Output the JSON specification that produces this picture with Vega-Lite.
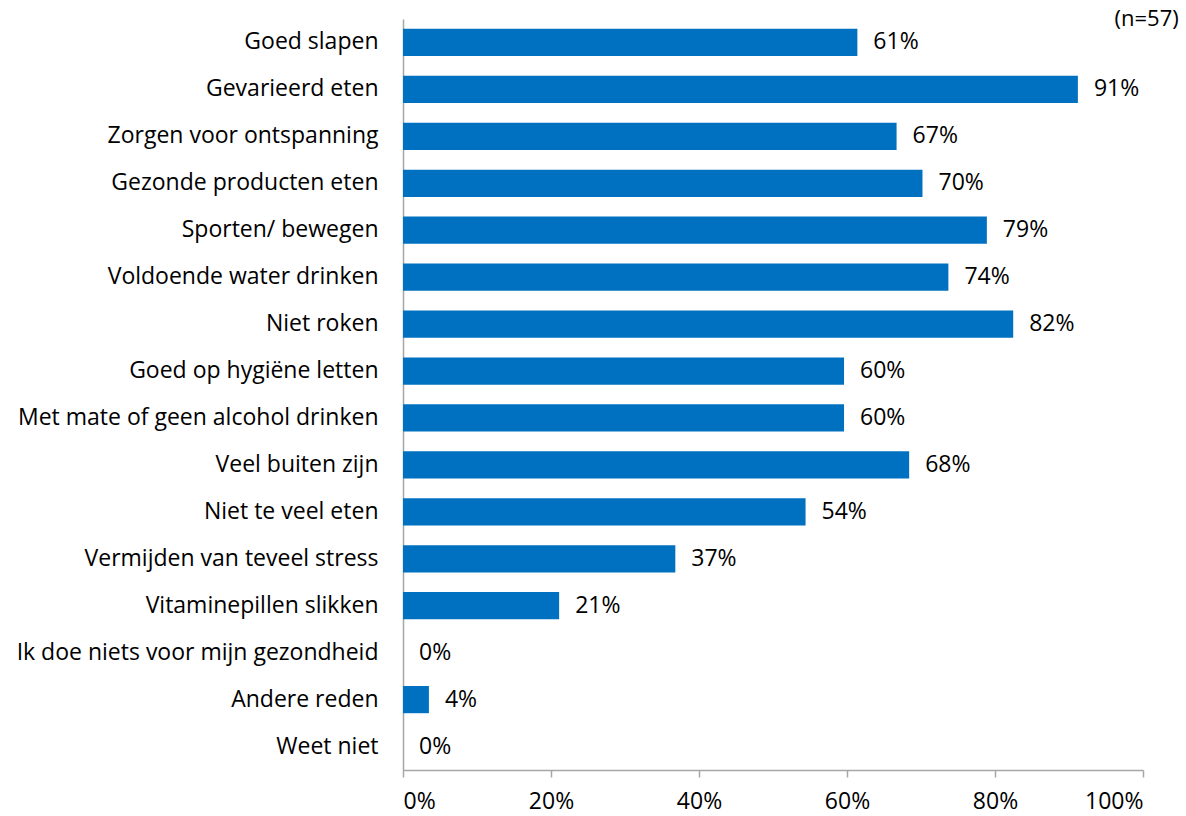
{
  "$schema": "https://vega.github.io/schema/vega-lite/v6.json",
  "autosize": "none",
  "width": 740,
  "height": 751,
  "padding": {"left": 403, "top": 19, "right": 43, "bottom": 46},
  "background": "white",
  "config": {"view": {"stroke": null}, "font": "Open Sans"},
  "title": {"text": "(n=57)", "anchor": "end", "orient": "top", "baseline": "middle", "offset": -22, "dx": 35, "fontSize": 22, "fontWeight": "normal", "font": "Open Sans", "color": "black"},
  "data": {"values": [
    {"cat": "Goed slapen", "v": 0.614},
    {"cat": "Gevarieerd eten", "v": 0.912},
    {"cat": "Zorgen voor ontspanning", "v": 0.667},
    {"cat": "Gezonde producten eten", "v": 0.702},
    {"cat": "Sporten/ bewegen", "v": 0.789},
    {"cat": "Voldoende water drinken", "v": 0.737},
    {"cat": "Niet roken", "v": 0.8246},
    {"cat": "Goed op hygiëne letten", "v": 0.596},
    {"cat": "Met mate of geen alcohol drinken", "v": 0.596},
    {"cat": "Veel buiten zijn", "v": 0.684},
    {"cat": "Niet te veel eten", "v": 0.544},
    {"cat": "Vermijden van teveel stress", "v": 0.368},
    {"cat": "Vitaminepillen slikken", "v": 0.211},
    {"cat": "Ik doe niets voor mijn gezondheid", "v": 0},
    {"cat": "Andere reden", "v": 0.035},
    {"cat": "Weet niet", "v": 0}
  ]},
  "encoding": {
    "y": {"field": "cat", "type": "nominal", "sort": null,
      "scale": {"paddingInner": 0.42, "paddingOuter": 0.21},
      "axis": {"title": null, "ticks": false, "labelPadding": 25, "labelFontSize": 23, "labelColor": "black", "domainColor": "#A6A6A6", "domainWidth": 1.5, "labelLimit": 500}},
    "x": {"field": "v", "type": "quantitative",
      "scale": {"domain": [0, 1], "nice": false},
      "axis": {"title": null, "format": ".0%", "values": [0, 0.2, 0.4, 0.6, 0.8, 1], "grid": false, "tickSize": 7, "tickColor": "#A6A6A6", "domainColor": "#A6A6A6", "domainWidth": 1.5, "tickWidth": 1.5, "labelFontSize": 23, "labelColor": "black", "labelPadding": 13}}
  },
  "layer": [
    {"mark": {"type": "bar", "color": "#0070C0"}},
    {"mark": {"type": "text", "align": "left", "dx": 16, "fontSize": 23, "color": "black"},
     "encoding": {"text": {"field": "v", "type": "quantitative", "format": ".0%"}}}
  ]
}
